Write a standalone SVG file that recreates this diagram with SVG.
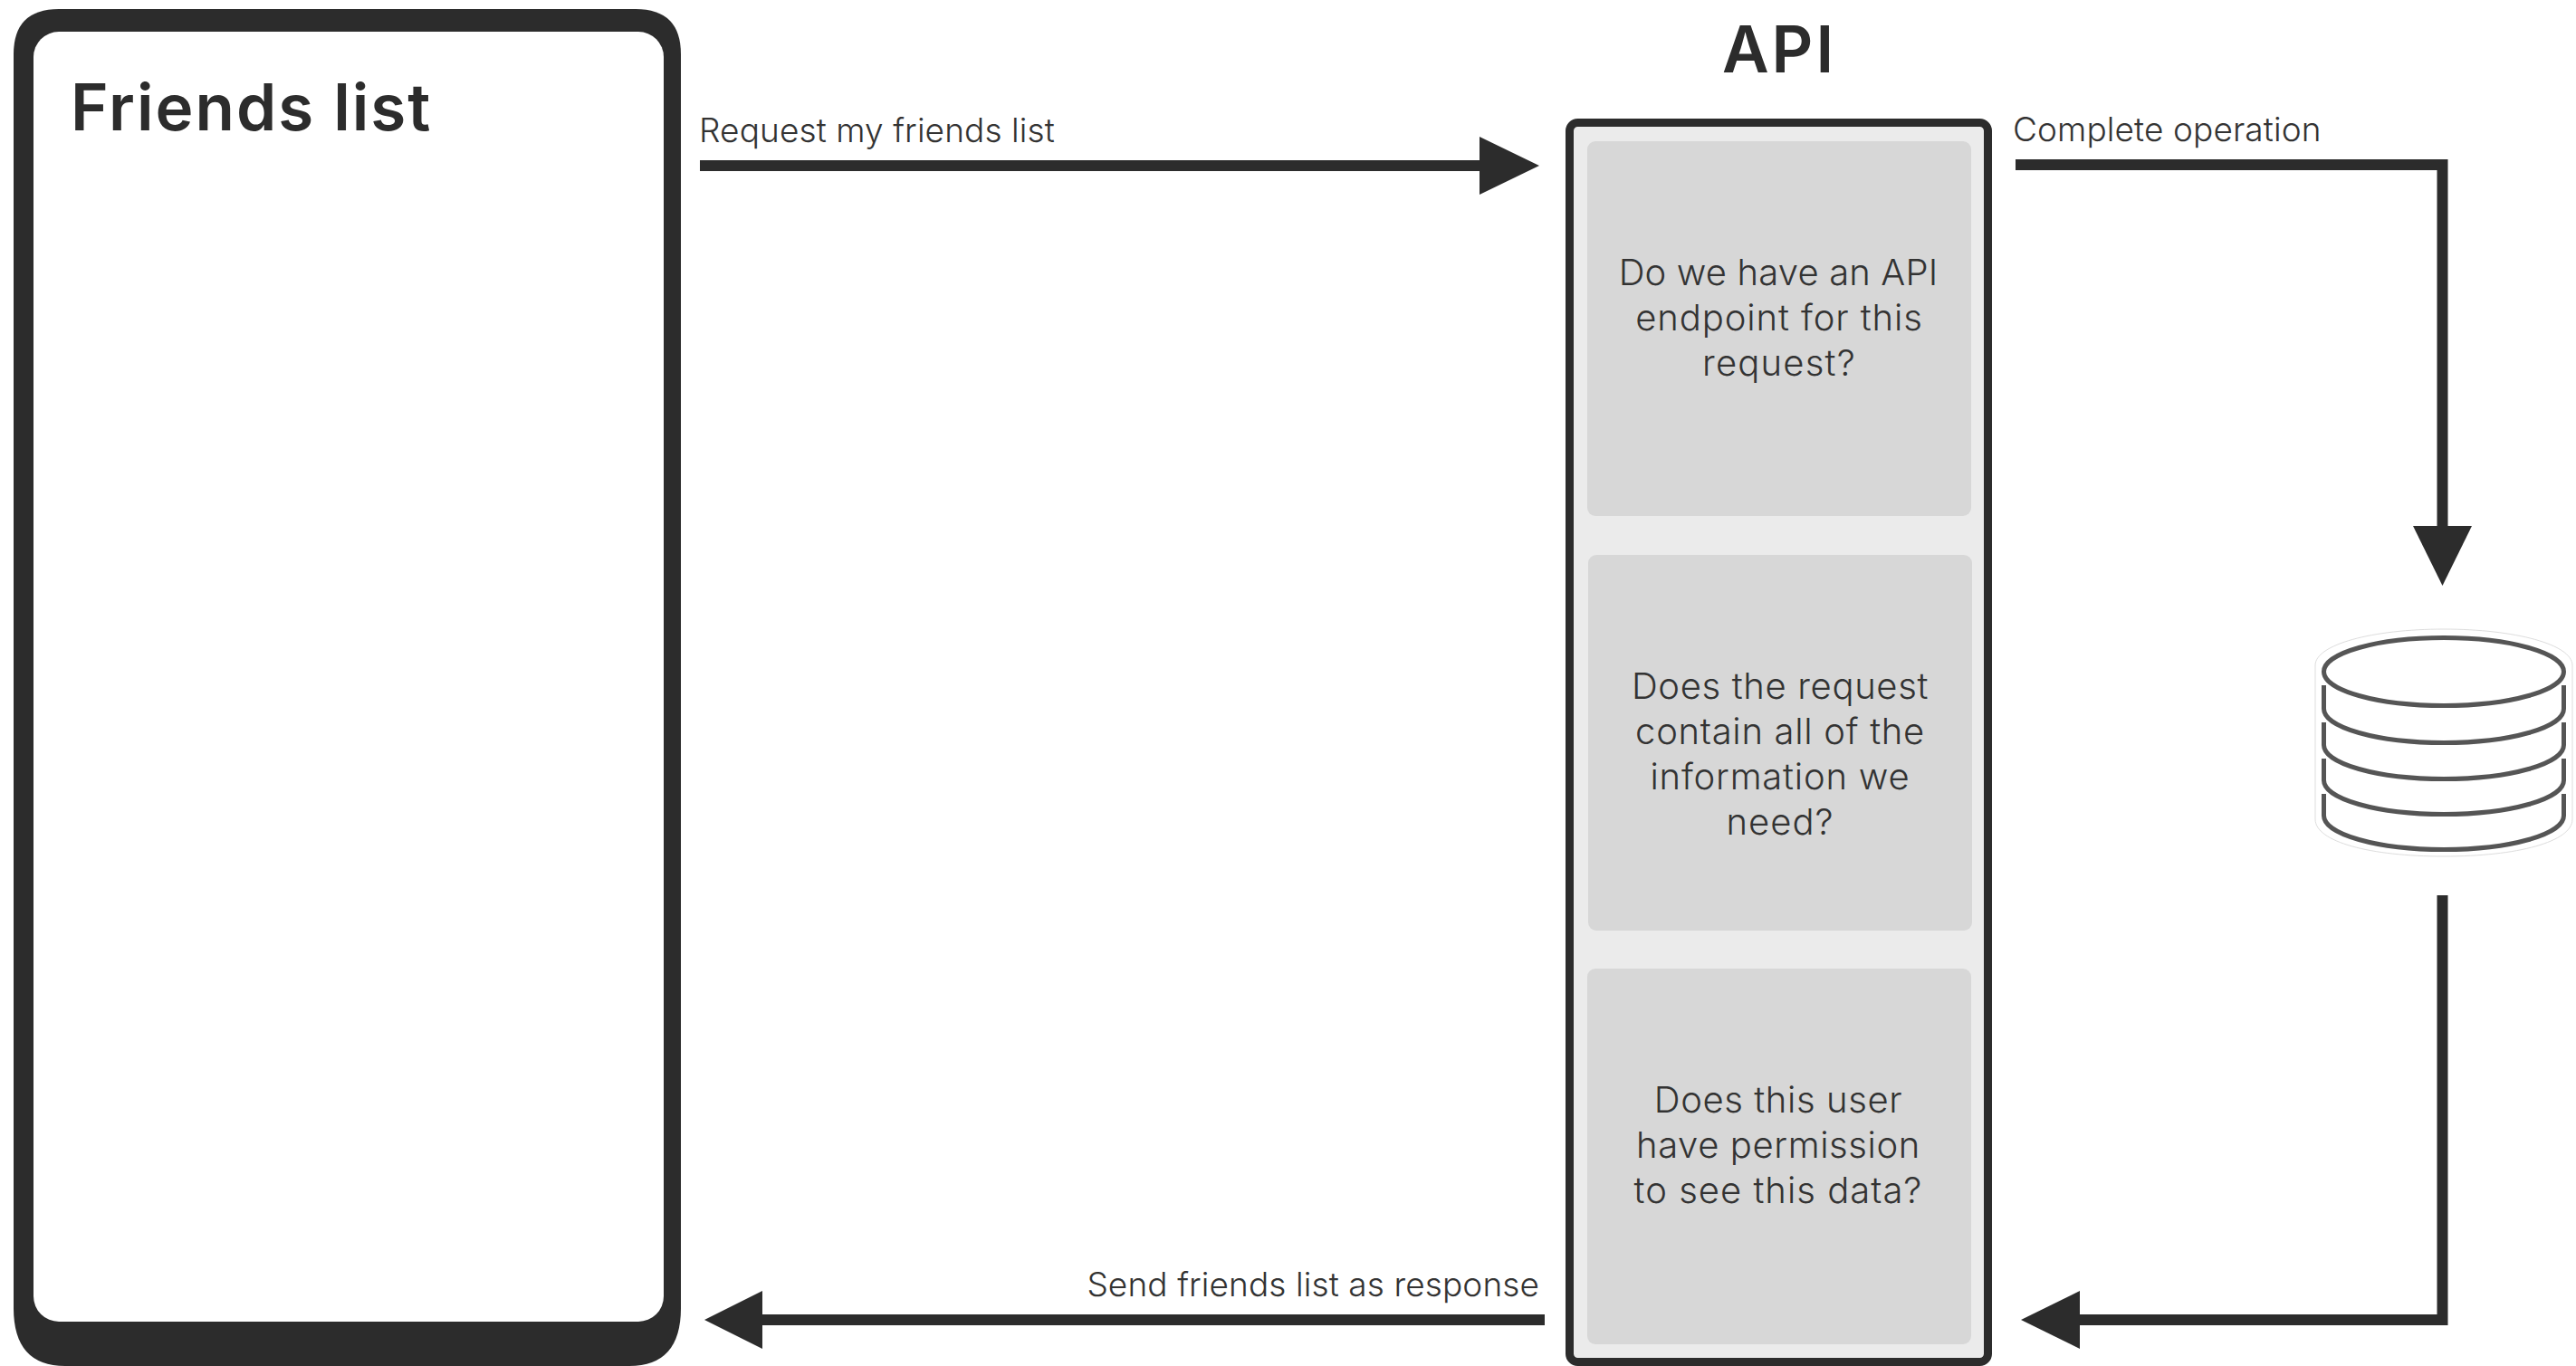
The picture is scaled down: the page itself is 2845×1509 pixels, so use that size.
<svg xmlns="http://www.w3.org/2000/svg" width="2845" height="1509" viewBox="0 0 2845 1509">
<style>
text{font-family:Inter,"Noto Sans","Liberation Sans",sans-serif}
.h{font-size:71px;font-weight:600;fill:#2c2c2c}
.b{font-size:40px;font-weight:300;fill:#333;text-anchor:middle}
.l{font-size:37px;font-weight:300;fill:#333;letter-spacing:.1px}
.c{fill:#d7d7d7}
.w{fill:none;stroke:#2c2c2c;stroke-width:12}
.a{fill:#2c2c2c}
.d{fill:none;stroke:#555;stroke-width:5}
</style>
<rect width="2845" height="1509" fill="#fff"/>
<g id="phone">
<path d="M65 10H702Q752 10 752 60V1445Q752 1509 695 1509H72Q15 1509 15 1445V60Q15 10 65 10Z" fill="#2c2c2c"/>
<rect x="37" y="35" width="696" height="1425" rx="28" ry="28" fill="#fff"/>
<text class="h" x="78" y="144" letter-spacing="2">Friends list</text>
</g>
<g id="api">
<text class="h" x="1965" y="80" text-anchor="middle" letter-spacing="3">API</text>
<rect x="1733.500" y="135.500" width="462" height="1369" rx="9" fill="#ebebeb" stroke="#2c2c2c" stroke-width="9"/>
</g>
<g id="check-endpoint">
<rect class="c" x="1753" y="156" width="424" height="414" rx="9"/>
<text class="b" x="1964" y="315" letter-spacing=".15">Do we have an API</text>
<text class="b" x="1965" y="365" letter-spacing=".9">endpoint for this</text>
<text class="b" x="1965" y="415" letter-spacing="1.2">request?</text>
</g>
<g id="check-information">
<rect class="c" x="1754" y="613" width="424" height="415" rx="9"/>
<text class="b" x="1966" y="772" letter-spacing=".65">Does the request</text>
<text class="b" x="1966" y="822" letter-spacing=".7">contain all of the</text>
<text class="b" x="1966" y="872" letter-spacing=".8">information we</text>
<text class="b" x="1966" y="922" letter-spacing="1">need?</text>
</g>
<g id="check-permission">
<rect class="c" x="1753" y="1070" width="424" height="415" rx="9"/>
<text class="b" x="1964" y="1229" letter-spacing=".6">Does this user</text>
<text class="b" x="1964" y="1279" letter-spacing=".6">have permission</text>
<text class="b" x="1964" y="1329" letter-spacing="1">to see this data?</text>
</g>
<g id="database">
<path d="M2557 735C2557 712 2620 695 2699 695S2841 712 2841 735V905C2841 930 2780 946 2699 946S2557 930 2557 905Z" fill="#fff" stroke="#ddd" stroke-width="1"/>
<ellipse class="d" cx="2699" cy="742" rx="132.500" ry="37.500"/>
<path class="d" d="M2566.500 757V783A132.500 37.500 0 0 0 2831.500 783V757"/>
<path class="d" d="M2566.500 798V823A132.500 37.500 0 0 0 2831.500 823V798"/>
<path class="d" d="M2566.500 838V862A132.500 37.500 0 0 0 2831.500 862V838"/>
<path class="d" d="M2566.500 877V901A132.500 37.500 0 0 0 2831.500 901V877"/>
</g>
<g id="connectors">
<path class="w" d="M773 183H1640"/>
<path class="a" d="M1634 151L1700 183L1634 215Z"/>
<path class="w" d="M2226 182H2697.500V590"/>
<path class="a" d="M2665 581H2730L2697.500 647Z"/>
<path class="w" d="M2697.500 989V1458H2290"/>
<path class="a" d="M2297 1426V1490L2232 1458Z"/>
<path class="w" d="M1706 1458H835"/>
<path class="a" d="M842 1426V1490L778 1458Z"/>
</g>
<g id="labels">
<text class="l" x="772" y="157">Request my friends list</text>
<text class="l" x="2223" y="156">Complete operation</text>
<text class="l" x="1700" y="1432" text-anchor="end" letter-spacing="-.05">Send friends list as response</text>
</g>
</svg>
